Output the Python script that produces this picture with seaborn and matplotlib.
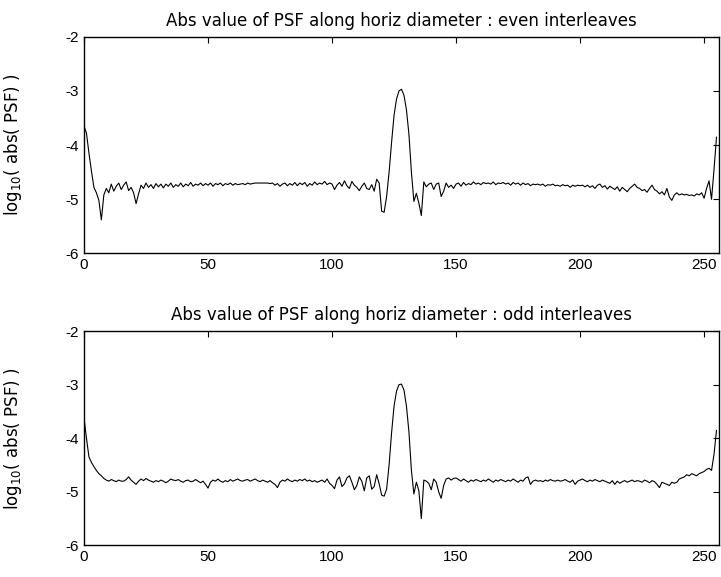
import numpy as np
import pandas as pd
import matplotlib
matplotlib.use("Agg")
import matplotlib.pyplot as plt
import seaborn as sns

# --- data (log10 |PSF| along the horizontal diameter) ---
psf_even = [
    -3.65, -3.78, -4.15, -4.48, -4.78, -4.88, -5.02, -5.38, -4.92, -4.80, -4.88, -4.72, -4.85, -4.76, -4.70, -4.82,
    -4.74, -4.68, -4.84, -4.78, -4.88, -5.08, -4.90, -4.74, -4.80, -4.70, -4.78, -4.73, -4.80, -4.71, -4.77, -4.72,
    -4.79, -4.72, -4.76, -4.70, -4.78, -4.73, -4.76, -4.70, -4.77, -4.72, -4.75, -4.69, -4.76, -4.72, -4.74, -4.70,
    -4.75, -4.71, -4.74, -4.70, -4.76, -4.71, -4.73, -4.70, -4.75, -4.71, -4.73, -4.70, -4.74, -4.71, -4.73, -4.72,
    -4.71, -4.73, -4.70, -4.72, -4.71, -4.70, -4.70, -4.70, -4.70, -4.70, -4.70, -4.71, -4.70, -4.74, -4.71, -4.76,
    -4.72, -4.70, -4.75, -4.71, -4.74, -4.69, -4.75, -4.70, -4.73, -4.69, -4.76, -4.71, -4.74, -4.68, -4.73, -4.70,
    -4.72, -4.67, -4.73, -4.70, -4.72, -4.82, -4.74, -4.69, -4.76, -4.66, -4.75, -4.80, -4.67, -4.74, -4.78, -4.84,
    -4.76, -4.70, -4.80, -4.82, -4.73, -4.85, -4.63, -4.70, -5.22, -5.24, -4.95, -4.50, -3.95, -3.45, -3.15, -3.00,
    -2.97, -3.08, -3.35, -3.80, -4.50, -5.04, -4.89, -5.07, -5.30, -4.68, -4.77, -4.72, -4.70, -4.82, -4.72, -4.70,
    -4.95, -4.85, -4.70, -4.78, -4.74, -4.80, -4.72, -4.70, -4.76, -4.69, -4.74, -4.71, -4.73, -4.68, -4.72, -4.70,
    -4.73, -4.69, -4.71, -4.70, -4.72, -4.68, -4.73, -4.70, -4.71, -4.69, -4.72, -4.70, -4.74, -4.69, -4.72, -4.70,
    -4.74, -4.70, -4.73, -4.71, -4.75, -4.72, -4.73, -4.72, -4.74, -4.72, -4.76, -4.73, -4.74, -4.72, -4.75, -4.74,
    -4.76, -4.73, -4.75, -4.74, -4.78, -4.74, -4.76, -4.74, -4.75, -4.74, -4.77, -4.74, -4.78, -4.75, -4.80, -4.74,
    -4.72, -4.78, -4.75, -4.81, -4.76, -4.79, -4.82, -4.77, -4.85, -4.78, -4.82, -4.86, -4.80, -4.76, -4.72, -4.78,
    -4.80, -4.84, -4.82, -4.87, -4.80, -4.74, -4.82, -4.85, -4.90, -4.86, -4.92, -4.80, -4.96, -5.02, -4.92, -4.88,
    -4.92, -4.90, -4.92, -4.91, -4.93, -4.92, -4.94, -4.90, -4.92, -4.88, -4.98, -4.80, -4.66, -5.00, -4.45, -3.85,
]

psf_odd = [
    -3.62, -4.00, -4.35, -4.45, -4.53, -4.60, -4.66, -4.70, -4.75, -4.78, -4.80, -4.77, -4.79, -4.81, -4.78, -4.80,
    -4.80, -4.77, -4.72, -4.78, -4.82, -4.86, -4.80, -4.76, -4.79, -4.75, -4.78, -4.80, -4.82, -4.79, -4.81, -4.78,
    -4.80, -4.83, -4.80, -4.76, -4.78, -4.79, -4.77, -4.80, -4.82, -4.79, -4.78, -4.81, -4.80, -4.77, -4.80, -4.83,
    -4.80, -4.86, -4.93, -4.82, -4.78, -4.80, -4.76, -4.80, -4.82, -4.79, -4.81, -4.77, -4.80, -4.78, -4.76, -4.79,
    -4.80, -4.78, -4.77, -4.80, -4.78, -4.76, -4.79, -4.81, -4.78, -4.80, -4.82, -4.79, -4.83, -4.86, -4.92, -4.82,
    -4.78, -4.80, -4.76, -4.79, -4.81, -4.78, -4.80, -4.77, -4.79, -4.76, -4.80, -4.78, -4.81, -4.79, -4.82, -4.80,
    -4.78, -4.82, -4.76, -4.84, -4.88, -4.94, -4.78, -4.72, -4.90, -4.85, -4.74, -4.70, -4.82, -4.96, -4.88, -4.72,
    -4.80, -4.98, -4.74, -4.70, -4.95, -4.90, -4.68, -4.85, -5.06, -5.08, -4.95, -4.50, -3.90, -3.40, -3.12, -3.00,
    -2.99, -3.10, -3.40, -3.88, -4.60, -5.04, -4.82, -4.98, -5.50, -4.78, -4.80, -4.84, -4.96, -4.76, -4.82, -5.00,
    -5.12, -4.88, -4.76, -4.74, -4.78, -4.75, -4.74, -4.77, -4.80, -4.76, -4.79, -4.82, -4.78, -4.80, -4.77, -4.79,
    -4.81, -4.78, -4.80, -4.76, -4.79, -4.82, -4.78, -4.80, -4.77, -4.79, -4.81, -4.78, -4.80, -4.76, -4.79, -4.82,
    -4.78, -4.80, -4.74, -4.72, -4.86, -4.80, -4.78, -4.80, -4.79, -4.81, -4.78, -4.80, -4.77, -4.79, -4.80, -4.78,
    -4.80, -4.79, -4.77, -4.80, -4.82, -4.78, -4.86, -4.80, -4.78, -4.76, -4.79, -4.81, -4.78, -4.80, -4.77, -4.79,
    -4.81, -4.78, -4.80, -4.82, -4.84, -4.79, -4.86, -4.80, -4.84, -4.81, -4.79, -4.82, -4.80, -4.78, -4.81, -4.79,
    -4.80, -4.82, -4.78, -4.80, -4.83, -4.79, -4.81, -4.86, -4.92, -4.82, -4.84, -4.86, -4.88, -4.82, -4.84, -4.82,
    -4.76, -4.74, -4.72, -4.68, -4.70, -4.66, -4.68, -4.70, -4.66, -4.64, -4.62, -4.58, -4.56, -4.60, -4.30, -3.85,
]

titles = [
    "Abs value of PSF along horiz diameter : even interleaves",
    "Abs value of PSF along horiz diameter : odd interleaves",
]
x_ticks = [0, 50, 100, 150, 200, 250]
y_ticks = [-6, -5, -4, -3, -2]
y_label = r"log$_{10}$( abs( PSF) )"

sns.set_style("white")
plt.rcParams["font.family"] = ["Liberation Sans", "DejaVu Sans"]
plt.rcParams["axes.unicode_minus"] = False
plt.rcParams["mathtext.fontset"] = "custom"
plt.rcParams["mathtext.rm"] = "DejaVu Sans"
plt.rcParams["text.color"] = "black"
plt.rcParams["axes.labelcolor"] = "black"

fig = plt.figure(figsize=(7.21, 5.77), dpi=100)
ax_top = fig.add_axes([0.1165, 0.5607, 0.8807, 0.3757])
ax_bot = fig.add_axes([0.1165, 0.0546, 0.8807, 0.3717])

wide = {"family": "DejaVu Sans", "size": 12, "color": "black"}

for ax, series, title in zip([ax_top, ax_bot], [psf_even, psf_odd], titles):
    df = pd.DataFrame({"pixel": np.arange(len(series)), "logpsf": series})
    sns.lineplot(data=df, x="pixel", y="logpsf", ax=ax, color="black", lw=0.8)
    ax.set_xlim(0, 256)
    ax.set_ylim(-6, -2)
    ax.set_xticks(x_ticks)
    ax.set_yticks(y_ticks)
    ax.set_xlabel("")
    ax.set_ylabel(y_label, fontdict=wide)
    ax.yaxis.set_label_coords(-0.095, 0.5)
    ax.set_title(title, fontdict=wide, pad=8)
    ax.tick_params(direction="in", top=True, right=True, length=4, width=0.8,
                   labelsize=11, colors="black")
    for sp in ax.spines.values():
        sp.set_visible(True)
        sp.set_color("black")
        sp.set_linewidth(1.0)

fig.savefig("out.png", dpi=100)
